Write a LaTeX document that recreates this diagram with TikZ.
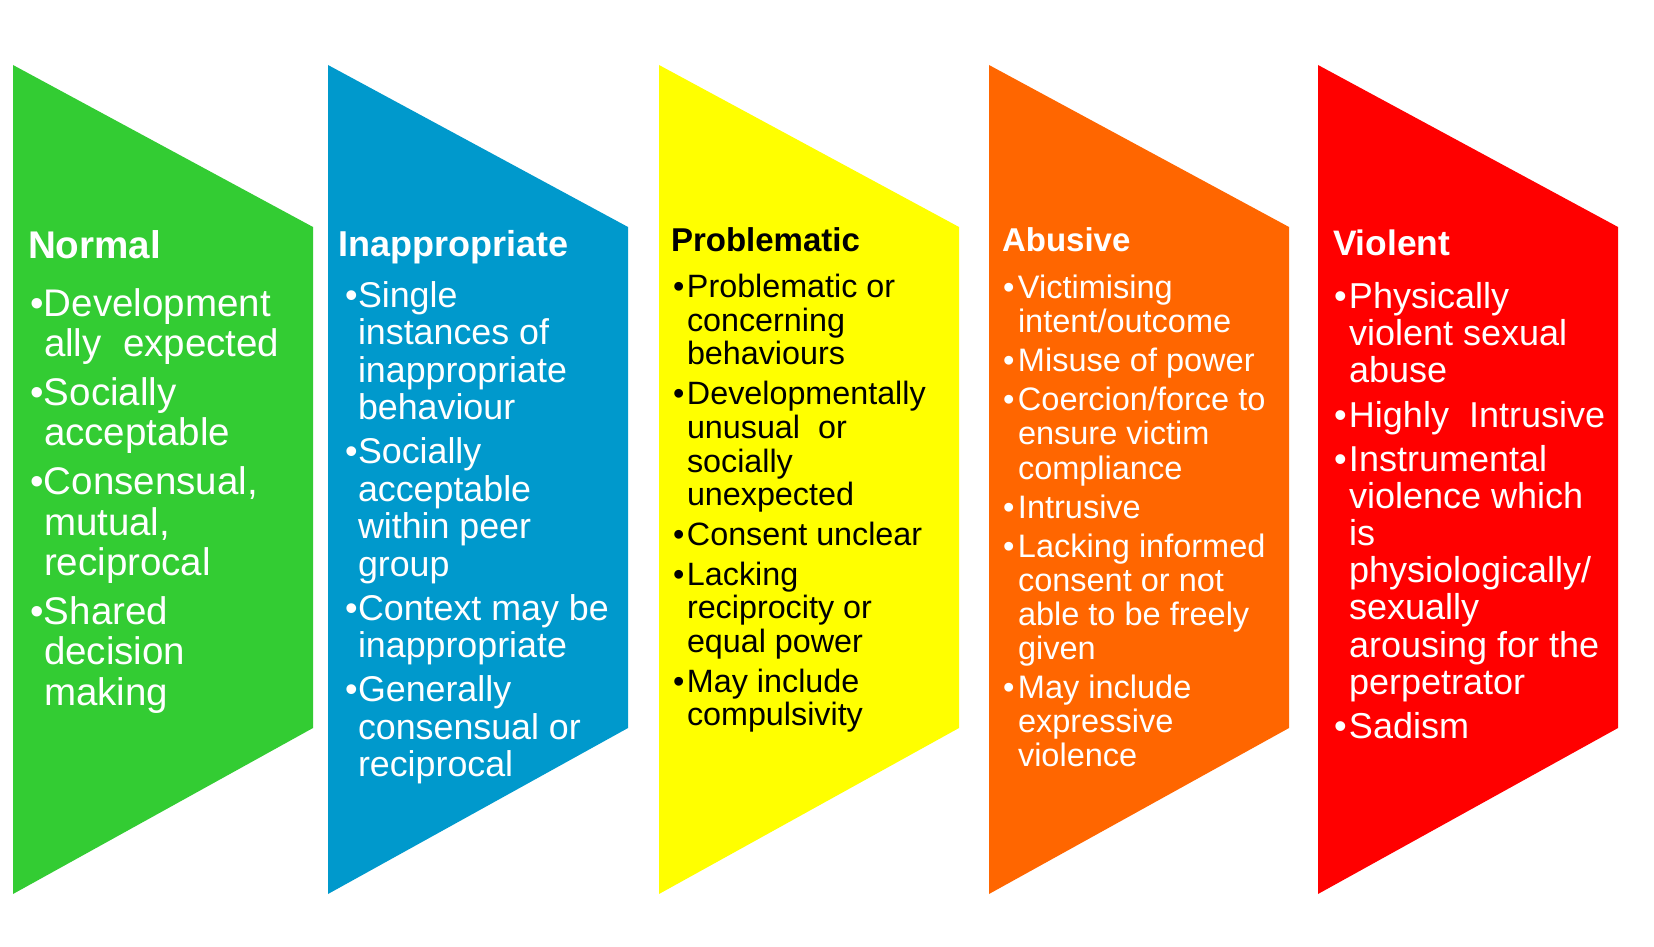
\documentclass[tikz,border=0pt]{standalone}
\usepackage{fontspec}
\setmainfont{Liberation Sans}
\definecolor{cgreen}{HTML}{33CC33}
\definecolor{cblue}{HTML}{0099CC}
\definecolor{cyellow}{HTML}{FFFF00}
\definecolor{corange}{HTML}{FF6600}
\definecolor{cred}{HTML}{FF0000}
\newcommand{\bl}[1]{\makebox[#1][l]{•}}
\tikzset{
  ttl/.style={anchor=base west, inner sep=0pt, outer sep=0pt},
  bodytxt/.style={anchor=base west, inner sep=0pt, outer sep=0pt, align=left},
}
\begin{document}
\begin{tikzpicture}[x=1pt,y=-1pt]
\useasboundingbox[fill=white] (0,0) rectangle (1654,947);
\foreach \x/\c in {13/cgreen, 328/cblue, 659/cyellow, 989/corange, 1318/cred} {
  \fill[\c] (\x,65) -- (\x+300,227) -- (\x+300,728) -- (\x,894) -- cycle;
}
% Normal
\node[ttl, text=white, font=\bfseries\fontsize{38.6}{40}\selectfont] (t1) at (28,258) {Normal};
\node[bodytxt, text=white, font=\fontsize{38.5}{40.6}\selectfont] (b1) at (30,316) {%
\begin{tabular}[t]{@{}l@{}l@{}}
\bl{14pt}&Development\\
&ally\ \ expected\\[8pt]
\bl{14pt}&Socially\\
&acceptable\\[8pt]
\bl{14pt}&Consensual,\\
&mutual,\\
&reciprocal\\[8pt]
\bl{14pt}&Shared\\
&decision\\
&making
\end{tabular}};
% Inappropriate
\node[ttl, text=white, font=\bfseries\fontsize{36}{38}\selectfont] (t2) at (338,256) {Inappropriate};
\node[bodytxt, text=white, font=\fontsize{35.8}{37.5}\selectfont] (b2) at (345,307) {%
\begin{tabular}[t]{@{}l@{}l@{}}
\bl{13pt}&Single\\
&instances of\\
&inappropriate\\
&behaviour\\[6.5pt]
\bl{13pt}&Socially\\
&acceptable\\
&within peer\\
&group\\[6.5pt]
\bl{13pt}&Context may be\\
&inappropriate\\[6.5pt]
\bl{13pt}&Generally\\
&consensual or\\
&reciprocal
\end{tabular}};
% Problematic
\node[ttl, text=black, font=\bfseries\fontsize{33}{35}\selectfont] (t3) at (671,251) {Problematic};
\node[bodytxt, text=black, font=\fontsize{32.3}{33.7}\selectfont] (b3) at (673,297.5) {%
\begin{tabular}[t]{@{}l@{}l@{}}
\bl{14pt}&Problematic or\\
&concerning\\
&behaviours\\[6pt]
\bl{14pt}&Developmentally\\
&unusual\ \ or\\
&socially\\
&unexpected\\[6pt]
\bl{14pt}&Consent unclear\\[6pt]
\bl{14pt}&Lacking\\
&reciprocity or\\
&equal power\\[6pt]
\bl{14pt}&May include\\
&compulsivity
\end{tabular}};
% Abusive
\node[ttl, text=white, font=\bfseries\fontsize{33}{35}\selectfont] (t4) at (1002,251) {Abusive};
\node[bodytxt, text=white, font=\fontsize{32.5}{34.1}\selectfont] (b4) at (1003,298.5) {%
\begin{tabular}[t]{@{}l@{}l@{}}
\bl{15pt}&Victimising\\
&intent/outcome\\[5pt]
\bl{15pt}&Misuse of power\\[5pt]
\bl{15pt}&Coercion/force to\\
&ensure victim\\
&compliance\\[5pt]
\bl{15pt}&Intrusive\\[5pt]
\bl{15pt}&Lacking informed\\
&consent or not\\
&able to be freely\\
&given\\[5pt]
\bl{15pt}&May include\\
&expressive\\
&violence
\end{tabular}};
% Violent
\node[ttl, text=white, font=\bfseries\fontsize{35.4}{37}\selectfont] (t5) at (1333,255.5) {Violent};
\node[bodytxt, text=white, font=\fontsize{36}{37}\selectfont] (b5) at (1334,308.5) {%
\begin{tabular}[t]{@{}l@{}l@{}}
\bl{15pt}&Physically\\
&violent sexual\\
&abuse\\[7pt]
\bl{15pt}&Highly\ \ Intrusive\\[7pt]
\bl{15pt}&Instrumental\\
&violence which\\
&is\\
&physiologically/\\
&sexually\\
&arousing for the\\
&perpetrator\\[7pt]
\bl{15pt}&Sadism
\end{tabular}};
\end{tikzpicture}
\end{document}
